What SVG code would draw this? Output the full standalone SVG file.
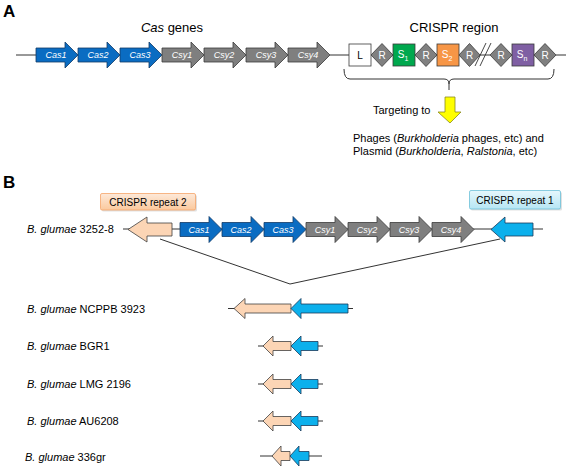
<svg xmlns="http://www.w3.org/2000/svg" width="567" height="469" viewBox="0 0 567 469">
<defs>
<linearGradient id="gPeach" x1="0" y1="0" x2="0" y2="1"><stop offset="0" stop-color="#fde9d9"/><stop offset="1" stop-color="#fbc99d"/></linearGradient>
<linearGradient id="gCyan" x1="0" y1="0" x2="0" y2="1"><stop offset="0" stop-color="#e6f7fc"/><stop offset="1" stop-color="#b6e6f4"/></linearGradient>
<style>
text{font-family:"Liberation Sans",Arial,sans-serif;}
.panel{font-size:17px;font-weight:bold;fill:#000}
.title{font-size:13px;fill:#000}
.lbl{font-size:11px;fill:#000}
.gl{font-size:9px;font-style:italic;fill:#fff;text-anchor:middle}
.wl{font-size:10px;fill:#fff;text-anchor:middle}
.cas{fill:#0a6cc2;stroke:#123a66;stroke-width:0.8}
.csy{fill:#7f7f7f;stroke:#3a3a3a;stroke-width:0.8}
.peach{fill:#fcd5b5;stroke:#404040;stroke-width:0.8}
.blue{fill:#0cb0ec;stroke:#1a3a5a;stroke-width:0.8}
.rd{fill:#808080;stroke:#3a3a3a;stroke-width:0.8}
.ln{stroke:#333;stroke-width:1;fill:none}
.shadow{fill:#000;opacity:0.12}
</style>
</defs>
<rect width="567" height="469" fill="#fff"/>

<!-- Panel A -->
<text class="panel" x="3" y="17">A</text>
<text class="title" x="172" y="32" text-anchor="middle"><tspan font-style="italic">Cas</tspan> genes</text>
<text class="title" x="454" y="32" text-anchor="middle">CRISPR region</text>

<g id="connectors">
<line class="ln" x1="16" y1="55" x2="36" y2="55"/>
<line class="ln" x1="330" y1="55" x2="349" y2="55"/>
<line class="ln" x1="480" y1="55" x2="490" y2="55"/>
<line class="ln" x1="556" y1="55" x2="566" y2="55"/>
<path class="ln" d="M344,69 Q344,79 350,79 H444 Q449,79 449,84 V90 M449,84 Q449,79 454,79 H548 Q554,79 554,69"/>
<line class="ln" x1="123" y1="229" x2="543" y2="229"/>
<polyline class="ln" points="160,239 290,284 500,239"/>
<line class="ln" x1="228" y1="308.5" x2="353" y2="308.5"/>
<line class="ln" x1="258" y1="346" x2="323" y2="346"/>
<line class="ln" x1="258" y1="384" x2="323" y2="384"/>
<line class="ln" x1="258" y1="421" x2="323" y2="421"/>
<line class="ln" x1="260" y1="456" x2="322" y2="456"/>
</g>

<g id="cas1A"><path class="cas" d="M36,48 H65 V42 L78,55 L65,68 V62 H36 Z"/><text class="gl" x="56" y="58">Cas1</text></g>
<g id="cas2A"><path class="cas" d="M78,48 H107 V42 L120,55 L107,68 V62 H78 Z"/><text class="gl" x="98" y="58">Cas2</text></g>
<g id="cas3A"><path class="cas" d="M120,48 H149 V42 L162,55 L149,68 V62 H120 Z"/><text class="gl" x="140" y="58">Cas3</text></g>
<g id="csy1A"><path class="csy" d="M162,48 H191 V42 L204,55 L191,68 V62 H162 Z"/><text class="gl" x="182" y="58">Csy1</text></g>
<g id="csy2A"><path class="csy" d="M204,48 H233 V42 L246,55 L233,68 V62 H204 Z"/><text class="gl" x="224" y="58">Csy2</text></g>
<g id="csy3A"><path class="csy" d="M246,48 H275 V42 L288,55 L275,68 V62 H246 Z"/><text class="gl" x="266" y="58">Csy3</text></g>
<g id="csy4A"><path class="csy" d="M288,48 H317 V42 L330,55 L317,68 V62 H288 Z"/><text class="gl" x="308" y="58">Csy4</text></g>

<g id="L"><rect x="349" y="44" width="22" height="22" fill="#fff" stroke="#3a3a3a" stroke-width="0.8"/><text x="360" y="59" font-size="10" text-anchor="middle" fill="#000">L</text></g>
<g id="R1"><path class="rd" d="M371,55 L382,43.5 L393,55 L382,66.5 Z"/><text class="wl" x="382" y="59">R</text></g>
<g id="S1"><rect x="393" y="44" width="22" height="22" fill="#00a84e" stroke="#3a3a3a" stroke-width="0.8"/><text class="wl" x="403" y="58">S<tspan font-size="7" dy="3">1</tspan></text></g>
<g id="R2"><path class="rd" d="M415,55 L426,43.5 L437,55 L426,66.5 Z"/><text class="wl" x="426" y="59">R</text></g>
<g id="S2"><rect x="437" y="44" width="22" height="22" fill="#f79646" stroke="#3a3a3a" stroke-width="0.8"/><text class="wl" x="447" y="58">S<tspan font-size="7" dy="3">2</tspan></text></g>
<g id="R3"><path class="rd" d="M459,55 L469.5,43.5 L480,55 L469.5,66.5 Z"/><text class="wl" x="469.5" y="59">R</text></g>
<g id="break"><line x1="475" y1="66" x2="486" y2="43" stroke="#333" stroke-width="0.9"/><line x1="480" y1="66" x2="491" y2="43" stroke="#333" stroke-width="0.9"/></g>
<g id="R4"><path class="rd" d="M490,55 L501,43.5 L512,55 L501,66.5 Z"/><text class="wl" x="501" y="59">R</text></g>
<g id="Sn"><rect x="512" y="44" width="22" height="22" fill="#7f5fa3" stroke="#3a3a3a" stroke-width="0.8"/><text class="wl" x="522" y="58">S<tspan font-size="7" dy="3">n</tspan></text></g>
<g id="R5"><path class="rd" d="M534,55 L545,43.5 L556,55 L545,66.5 Z"/><text class="wl" x="545" y="59">R</text></g>

<g id="targeting">
<path d="M445,97 H455 V112 H461 L450,123 L438,112 H445 Z" fill="#ffff00" stroke="#8a8a20" stroke-width="0.8"/>
<text class="lbl" x="373" y="114">Targeting to</text>
</g>
<g id="targets">
<text class="lbl" x="353" y="142">Phages (<tspan font-style="italic">Burkholderia</tspan> phages, etc) and</text>
<text class="lbl" x="353" y="155">Plasmid (<tspan font-style="italic">Burkholderia</tspan>, <tspan font-style="italic">Ralstonia</tspan>, etc)</text>
</g>

<!-- Panel B -->
<text class="panel" x="3" y="188">B</text>
<g id="repeat2label"><rect class="shadow" x="102" y="195" width="95" height="16.5" rx="1.5"/><rect x="100.5" y="193.5" width="95" height="16.5" rx="1.5" fill="url(#gPeach)" stroke="#f5a46a" stroke-width="0.8"/><text x="148" y="205.5" font-size="10" text-anchor="middle" fill="#000">CRISPR repeat 2</text></g>
<g id="repeat1label"><rect class="shadow" x="471" y="192" width="91" height="18.5" rx="1.5"/><rect x="469.5" y="190.5" width="91" height="18.5" rx="1.5" fill="url(#gCyan)" stroke="#6cc0d8" stroke-width="0.8"/><text x="515" y="203.5" font-size="10" text-anchor="middle" fill="#000">CRISPR repeat 1</text></g>

<g id="s3252"><text class="lbl" x="27" y="233"><tspan font-style="italic">B. glumae</tspan> 3252-8</text></g>
<g id="rep2B"><path class="peach" d="M172,223 H147 V217 L128,229.5 L147,242 V236 H172 Z"/></g>
<g id="cas1B"><path class="cas" d="M180,222.5 H209 V216.5 L222,229.5 L209,242.5 V236.5 H180 Z"/><text class="gl" x="199" y="232.5">Cas1</text></g>
<g id="cas2B"><path class="cas" d="M222,222.5 H251 V216.5 L264,229.5 L251,242.5 V236.5 H222 Z"/><text class="gl" x="241" y="232.5">Cas2</text></g>
<g id="cas3B"><path class="cas" d="M264,222.5 H293 V216.5 L306,229.5 L293,242.5 V236.5 H264 Z"/><text class="gl" x="283" y="232.5">Cas3</text></g>
<g id="csy1B"><path class="csy" d="M306,222.5 H335 V216.5 L348,229.5 L335,242.5 V236.5 H306 Z"/><text class="gl" x="325" y="232.5">Csy1</text></g>
<g id="csy2B"><path class="csy" d="M348,222.5 H377 V216.5 L390,229.5 L377,242.5 V236.5 H348 Z"/><text class="gl" x="367" y="232.5">Csy2</text></g>
<g id="csy3B"><path class="csy" d="M390,222.5 H419 V216.5 L432,229.5 L419,242.5 V236.5 H390 Z"/><text class="gl" x="409" y="232.5">Csy3</text></g>
<g id="csy4B"><path class="csy" d="M432,222.5 H461 V216.5 L474,229.5 L461,242.5 V236.5 H432 Z"/><text class="gl" x="451" y="232.5">Csy4</text></g>
<g id="rep1B"><path class="blue" d="M533,223 H505 V217 L491,229.5 L505,242 V236 H533 Z"/></g>

<g id="ncppb">
<text class="lbl" x="27" y="313"><tspan font-style="italic">B. glumae</tspan> NCPPB 3923</text>
<path class="peach" d="M291,304 H245 V298.5 L234,308.5 L245,318.5 V313 H291 Z"/>
<path class="blue" d="M348,304 H301 V298.5 L291,308.5 L301,318.5 V313 H348 Z"/>
</g>
<g id="bgr1">
<text class="lbl" x="27" y="350"><tspan font-style="italic">B. glumae</tspan> BGR1</text>
<path class="peach" d="M291,341.5 H273 V336 L263,346 L273,356 V350.5 H291 Z"/>
<path class="blue" d="M318,341.5 H301 V336 L291,346 L301,356 V350.5 H318 Z"/>
</g>
<g id="lmg">
<text class="lbl" x="27" y="388"><tspan font-style="italic">B. glumae</tspan> LMG 2196</text>
<path class="peach" d="M291,379.5 H273 V374 L263,384 L273,394 V388.5 H291 Z"/>
<path class="blue" d="M318,379.5 H301 V374 L291,384 L301,394 V388.5 H318 Z"/>
</g>
<g id="au6208">
<text class="lbl" x="27" y="425"><tspan font-style="italic">B. glumae</tspan> AU6208</text>
<path class="peach" d="M291,416.5 H273 V411 L263,421 L273,431 V425.5 H291 Z"/>
<path class="blue" d="M318,416.5 H301 V411 L291,421 L301,431 V425.5 H318 Z"/>
</g>
<g id="g336">
<text class="lbl" x="25" y="461"><tspan font-style="italic">B. glumae</tspan> 336gr</text>
<path class="peach" d="M290,451.5 H281 V446 L272,456 L281,466 V460.5 H290 Z"/>
<path class="blue" d="M309,451.5 H299 V446 L290,456 L299,466 V460.5 H309 Z"/>
</g>
</svg>
